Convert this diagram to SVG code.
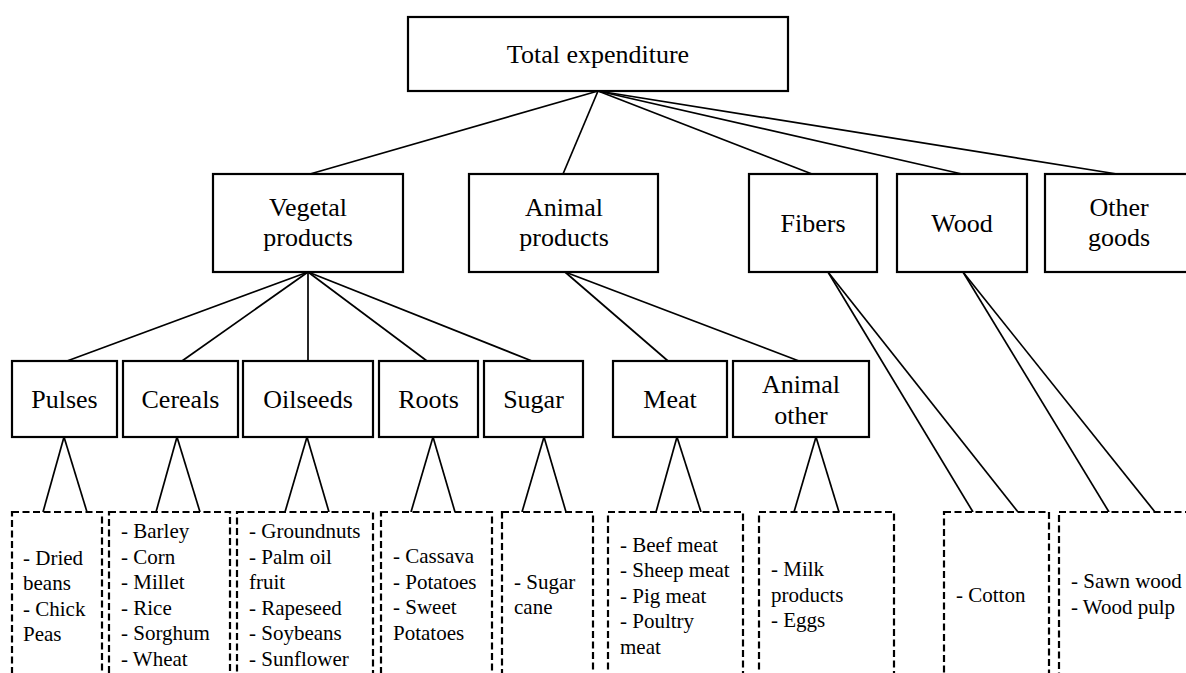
<svg xmlns="http://www.w3.org/2000/svg" width="1186" height="673" viewBox="0 0 1186 673">
<style>
.box{fill:#fff;stroke:#000;stroke-width:2.2}
.dbox{fill:#fff;stroke:#000;stroke-width:2.2;stroke-dasharray:7,3.5}
.lbl{font-family:'Liberation Serif',serif;font-size:26px;fill:#000;text-anchor:middle}
.itm{font-family:'Liberation Serif',serif;font-size:21px;fill:#000}
.con line{stroke:#000;stroke-width:1.7}
</style>
<rect width="1186" height="673" fill="#fff"/>
<g class="con" id="connectors">
<line x1="598" y1="91" x2="310" y2="174"/>
<line x1="598" y1="91" x2="563" y2="174"/>
<line x1="598" y1="91" x2="812" y2="174"/>
<line x1="598" y1="91" x2="962" y2="174"/>
<line x1="598" y1="91" x2="1117" y2="174"/>
<line x1="308" y1="272" x2="67" y2="361"/>
<line x1="308" y1="272" x2="182" y2="361"/>
<line x1="308" y1="272" x2="308" y2="361"/>
<line x1="308" y1="272" x2="427" y2="361"/>
<line x1="308" y1="272" x2="532" y2="361"/>
<line x1="565" y1="272" x2="668" y2="361"/>
<line x1="565" y1="272" x2="799" y2="361"/>
<line x1="828" y1="272" x2="973" y2="512"/>
<line x1="828" y1="272" x2="1018" y2="512"/>
<line x1="963" y1="272" x2="1109" y2="512"/>
<line x1="963" y1="272" x2="1155" y2="512"/>
<line x1="64" y1="437" x2="43" y2="512"/>
<line x1="64" y1="437" x2="87" y2="512"/>
<line x1="177" y1="437" x2="156" y2="512"/>
<line x1="177" y1="437" x2="200" y2="512"/>
<line x1="307" y1="437" x2="285" y2="512"/>
<line x1="307" y1="437" x2="329" y2="512"/>
<line x1="433" y1="437" x2="411" y2="512"/>
<line x1="433" y1="437" x2="455" y2="512"/>
<line x1="544" y1="437" x2="522" y2="512"/>
<line x1="544" y1="437" x2="566" y2="512"/>
<line x1="677" y1="437" x2="656" y2="512"/>
<line x1="677" y1="437" x2="701" y2="512"/>
<line x1="816" y1="437" x2="794" y2="512"/>
<line x1="816" y1="437" x2="839" y2="512"/>
</g>
<g id="total"><rect class="box" x="408" y="17" width="380" height="74"/><text class="lbl" x="598" y="63">Total expenditure</text></g>
<g id="vegetal"><rect class="box" x="213" y="174" width="190" height="98"/><text class="lbl" x="308" y="216">Vegetal</text><text class="lbl" x="308" y="246">products</text></g>
<g id="animal"><rect class="box" x="469" y="174" width="189" height="98"/><text class="lbl" x="564" y="216">Animal</text><text class="lbl" x="564" y="246">products</text></g>
<g id="fibers"><rect class="box" x="749" y="174" width="128" height="98"/><text class="lbl" x="813" y="232">Fibers</text></g>
<g id="wood"><rect class="box" x="897" y="174" width="130" height="98"/><text class="lbl" x="962" y="232">Wood</text></g>
<g id="other"><rect class="box" x="1045" y="174" width="148" height="98"/><text class="lbl" x="1119" y="216">Other</text><text class="lbl" x="1119" y="246">goods</text></g>
<g id="pulses"><rect class="box" x="12" y="361" width="105" height="76"/><text class="lbl" x="64.5" y="408">Pulses</text></g>
<g id="cereals"><rect class="box" x="123" y="361" width="115" height="76"/><text class="lbl" x="180.5" y="408">Cereals</text></g>
<g id="oilseeds"><rect class="box" x="243" y="361" width="130" height="76"/><text class="lbl" x="308" y="408">Oilseeds</text></g>
<g id="roots"><rect class="box" x="379" y="361" width="99" height="76"/><text class="lbl" x="428.5" y="408">Roots</text></g>
<g id="sugar"><rect class="box" x="484" y="361" width="99" height="76"/><text class="lbl" x="533.5" y="408">Sugar</text></g>
<g id="meat"><rect class="box" x="613" y="361" width="114" height="76"/><text class="lbl" x="670" y="408">Meat</text></g>
<g id="animalother"><rect class="box" x="733" y="361" width="136" height="76"/><text class="lbl" x="801" y="393">Animal</text><text class="lbl" x="801" y="424">other</text></g>
<g id="pulses-items"><rect class="dbox" x="12" y="512" width="90" height="180"/>
<text class="itm" x="23" y="565">- Dried</text><text class="itm" x="23" y="590">beans</text><text class="itm" x="23" y="616">- Chick</text><text class="itm" x="23" y="641">Peas</text></g>
<g id="cereals-items"><rect class="dbox" x="109" y="512" width="121" height="180"/>
<text class="itm" x="121" y="538">- Barley</text><text class="itm" x="121" y="564">- Corn</text><text class="itm" x="121" y="589">- Millet</text><text class="itm" x="121" y="615">- Rice</text><text class="itm" x="121" y="640">- Sorghum</text><text class="itm" x="121" y="666">- Wheat</text></g>
<g id="oilseeds-items"><rect class="dbox" x="237" y="512" width="136" height="180"/>
<text class="itm" x="249" y="538">- Groundnuts</text><text class="itm" x="249" y="564">- Palm oil</text><text class="itm" x="249" y="589">fruit</text><text class="itm" x="249" y="615">- Rapeseed</text><text class="itm" x="249" y="640">- Soybeans</text><text class="itm" x="249" y="666">- Sunflower</text></g>
<g id="roots-items"><rect class="dbox" x="381" y="512" width="111" height="180"/>
<text class="itm" x="393" y="563">- Cassava</text><text class="itm" x="393" y="589">- Potatoes</text><text class="itm" x="393" y="614">- Sweet</text><text class="itm" x="393" y="640">Potatoes</text></g>
<g id="sugar-items"><rect class="dbox" x="502" y="512" width="91" height="180"/>
<text class="itm" x="514" y="589">- Sugar</text><text class="itm" x="514" y="614">cane</text></g>
<g id="meat-items"><rect class="dbox" x="608" y="512" width="135" height="180"/>
<text class="itm" x="620" y="552">- Beef meat</text><text class="itm" x="620" y="577">- Sheep meat</text><text class="itm" x="620" y="603">- Pig meat</text><text class="itm" x="620" y="628">- Poultry</text><text class="itm" x="620" y="654">meat</text></g>
<g id="animalother-items"><rect class="dbox" x="759" y="512" width="135" height="180"/>
<text class="itm" x="771" y="576">- Milk</text><text class="itm" x="771" y="602">products</text><text class="itm" x="771" y="627">- Eggs</text></g>
<g id="fibers-items"><rect class="dbox" x="944" y="512" width="105" height="180"/>
<text class="itm" x="956" y="602">- Cotton</text></g>
<g id="wood-items"><rect class="dbox" x="1059" y="512" width="140" height="180"/>
<text class="itm" x="1071" y="588">- Sawn wood</text><text class="itm" x="1071" y="614">- Wood pulp</text></g>
</svg>
